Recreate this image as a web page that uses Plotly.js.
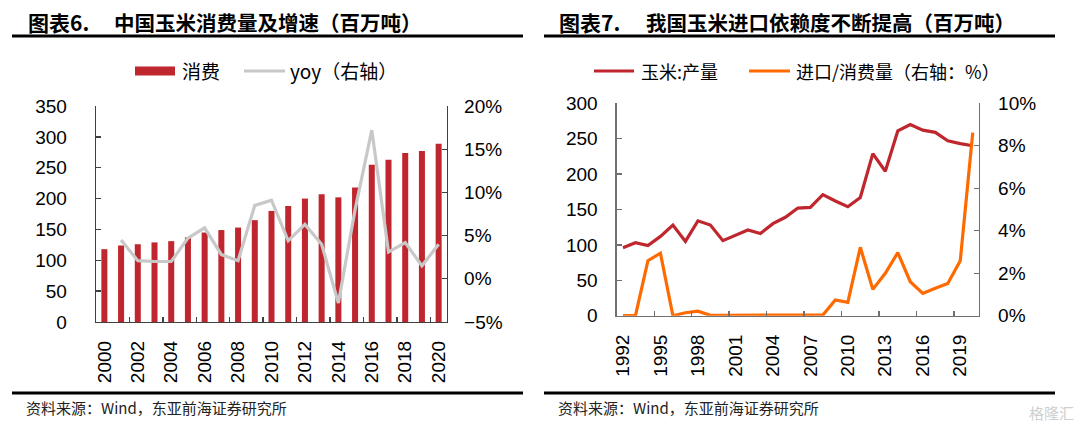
<!DOCTYPE html>
<html>
<head>
<meta charset="utf-8">
<script src="https://cdn.plot.ly/plotly-3.0.1.min.js"></script>
<style>
html,body{margin:0;padding:0;background:#fff;}
#chart{width:1080px;height:429px;}
</style>
</head>
<body>
<div id="chart"></div>
<script>
// ---- Left chart data: China corn consumption (million tonnes) and yoy (%)
const yearsLeft = ['2000','2001','2002','2003','2004','2005','2006','2007','2008','2009','2010',
                   '2011','2012','2013','2014','2015','2016','2017','2018','2019','2020'];
const consumption = [118,124,126,129,131,137,145,149,153,165,180,188,200,207,202,218,255,263,274,277,289];
const yoyGrowth = [null,4.5,2.1,2.0,2.0,4.7,5.9,2.8,2.1,8.5,9.1,4.4,6.3,4.0,-2.8,8.0,17.2,3.1,4.2,1.5,4.0];

// ---- Right chart data: China corn production (million tonnes) and import / consumption (%)
const yearsRight = ['1992','1993','1994','1995','1996','1997','1998','1999','2000','2001','2002',
                    '2003','2004','2005','2006','2007','2008','2009','2010','2011','2012','2013',
                    '2014','2015','2016','2017','2018','2019','2020'];
const production = [96,103,99,112,128,105,134,128,106,114,121,116,130,139,152,153,171,162,154,167,
                    229,204,261,270,262,259,247,243,240];
const importRatio = [0,0,2.59,2.94,0,0.14,0.21,0.02,0.02,0.02,0.01,0.01,0.01,0.02,0.02,0.01,0.03,
                     0.74,0.63,3.22,1.24,2.0,2.97,1.6,1.05,1.29,1.52,2.59,8.62];

// ---- Text
const titleLeftNum = '图表6.';
const titleLeft = '中国玉米消费量及增速（百万吨）';
const titleRightNum = '图表7.';
const titleRight = '我国玉米进口依赖度不断提高（百万吨）';
const legendLeft = ['消费', 'yoy（右轴）'];
const legendRight = ['玉米:产量', '进口/消费量（右轴：%）'];
const sourceText = '资料来源：Wind，东亚前海证券研究所';

const W = 1080, H = 429;
const px = v => v / W;
const py = v => (H - v) / H;

const RED = '#C0262D';
const GREY = '#C8C8C8';
const ORANGE = '#FF6A00';
const tickFont = {family: 'Liberation Sans, Arial, sans-serif', size: 19, color: '#000'};
const cjk = 'Noto Sans CJK SC, sans-serif';

const traces = [
  {type: 'bar', x: yearsLeft, y: consumption, xaxis: 'x', yaxis: 'y',
   marker: {color: RED}, showlegend: false, hoverinfo: 'x+y'},
  {type: 'scatter', mode: 'lines', x: yearsLeft, y: yoyGrowth, xaxis: 'x', yaxis: 'y2',
   line: {color: GREY, width: 3.2}, showlegend: false, connectgaps: false},
  {type: 'scatter', mode: 'lines', x: yearsRight, y: production, xaxis: 'x2', yaxis: 'y3',
   line: {color: RED, width: 3.2}, showlegend: false},
  {type: 'scatter', mode: 'lines', x: yearsRight, y: importRatio, xaxis: 'x2', yaxis: 'y4',
   line: {color: ORANGE, width: 3.2}, showlegend: false}
];

const axisCommon = {
  showgrid: false, zeroline: false, showline: true, linewidth: 1.3,
  ticks: 'inside', ticklen: 5, tickwidth: 1.3, tickfont: tickFont, fixedrange: true
};
const leftAxisColor = '#404040';
const rightAxisColor = '#707070';

const layout = {
  width: W, height: H,
  margin: {l: 0, r: 0, t: 0, b: 0},
  paper_bgcolor: '#fff', plot_bgcolor: 'rgba(0,0,0,0)',
  bargap: 0.64,
  showlegend: false,
  xaxis: Object.assign({}, axisCommon, {
    domain: [px(96), px(447)], anchor: 'y', type: 'category',
    range: [-0.5, 20.5], tickmode: 'linear', tick0: 0, dtick: 2,
    tickson: 'boundaries', tickangle: -90, linecolor: leftAxisColor, tickcolor: leftAxisColor,
    ticklabelstandoff: 10
  }),
  yaxis: Object.assign({}, axisCommon, {
    domain: [py(322), py(106)], anchor: 'x', range: [0, 350], dtick: 50,
    linecolor: leftAxisColor, tickcolor: leftAxisColor, ticklabelstandoff: 24
  }),
  yaxis2: Object.assign({}, axisCommon, {
    overlaying: 'y', side: 'right', anchor: 'x', range: [-5, 20], dtick: 5,
    ticksuffix: '%', linecolor: leftAxisColor, tickcolor: leftAxisColor, ticklabelstandoff: 12
  }),
  xaxis2: Object.assign({}, axisCommon, {
    domain: [px(616.7), px(979)], anchor: 'y3', type: 'category',
    range: [-0.5, 28.5], tickmode: 'linear', tick0: 0, dtick: 3,
    tickson: 'boundaries', tickangle: -90, linecolor: rightAxisColor, tickcolor: rightAxisColor,
    ticklabelstandoff: 10
  }),
  yaxis3: Object.assign({}, axisCommon, {
    domain: [py(315.7), py(103.3)], anchor: 'x2', range: [0, 300], dtick: 50,
    linecolor: rightAxisColor, tickcolor: rightAxisColor, ticklabelstandoff: 14
  }),
  yaxis4: Object.assign({}, axisCommon, {
    overlaying: 'y3', side: 'right', anchor: 'x2', range: [0, 10], dtick: 2,
    ticksuffix: '%', linecolor: rightAxisColor, tickcolor: rightAxisColor, ticklabelstandoff: 14
  }),
  shapes: [
    // title underlines
    {type: 'line', xref: 'paper', yref: 'paper', x0: px(12), x1: px(523), y0: py(36), y1: py(36),
     line: {color: '#000', width: 3}},
    {type: 'line', xref: 'paper', yref: 'paper', x0: px(544), x1: px(1055), y0: py(36), y1: py(36),
     line: {color: '#000', width: 3}},
    // footer lines
    {type: 'line', xref: 'paper', yref: 'paper', x0: px(12), x1: px(523), y0: py(393), y1: py(393),
     line: {color: '#000', width: 3}},
    {type: 'line', xref: 'paper', yref: 'paper', x0: px(544), x1: px(1055), y0: py(393), y1: py(393),
     line: {color: '#000', width: 3}},
    // legend symbols (left)
    {type: 'rect', xref: 'paper', yref: 'paper', x0: px(135), x1: px(175), y0: py(75.5), y1: py(66.5),
     fillcolor: RED, line: {width: 0}},
    {type: 'line', xref: 'paper', yref: 'paper', x0: px(244), x1: px(285), y0: py(71), y1: py(71),
     line: {color: GREY, width: 3}},
    // legend symbols (right)
    {type: 'line', xref: 'paper', yref: 'paper', x0: px(594), x1: px(634), y0: py(71), y1: py(71),
     line: {color: RED, width: 3}},
    {type: 'line', xref: 'paper', yref: 'paper', x0: px(749), x1: px(790), y0: py(71), y1: py(71),
     line: {color: ORANGE, width: 3}}
  ],
  annotations: [
    {text: '<b>' + titleLeftNum + '</b>', xref: 'paper', yref: 'paper', x: px(26), y: py(22),
     xanchor: 'left', yanchor: 'middle', showarrow: false, font: {family: cjk, size: 21, color: '#000'}},
    {text: '<b>' + titleLeft + '</b>', xref: 'paper', yref: 'paper', x: px(112), y: py(22),
     xanchor: 'left', yanchor: 'middle', showarrow: false, font: {family: cjk, size: 20.5, color: '#000'}},
    {text: '<b>' + titleRightNum + '</b>', xref: 'paper', yref: 'paper', x: px(557), y: py(22),
     xanchor: 'left', yanchor: 'middle', showarrow: false, font: {family: cjk, size: 21, color: '#000'}},
    {text: '<b>' + titleRight + '</b>', xref: 'paper', yref: 'paper', x: px(644), y: py(22),
     xanchor: 'left', yanchor: 'middle', showarrow: false, font: {family: cjk, size: 20.5, color: '#000'}},
    {text: legendLeft[0], xref: 'paper', yref: 'paper', x: px(180), y: py(71),
     xanchor: 'left', yanchor: 'middle', showarrow: false, font: {family: cjk, size: 19, color: '#000'}},
    {text: legendLeft[1], xref: 'paper', yref: 'paper', x: px(288), y: py(71),
     xanchor: 'left', yanchor: 'middle', showarrow: false, font: {family: cjk, size: 19, color: '#000'}},
    {text: legendRight[0], xref: 'paper', yref: 'paper', x: px(639), y: py(71),
     xanchor: 'left', yanchor: 'middle', showarrow: false, font: {family: cjk, size: 18, color: '#000'}},
    {text: legendRight[1], xref: 'paper', yref: 'paper', x: px(794), y: py(71),
     xanchor: 'left', yanchor: 'middle', showarrow: false, font: {family: cjk, size: 18, color: '#000'}},
    {text: sourceText, xref: 'paper', yref: 'paper', x: px(24), y: py(407),
     xanchor: 'left', yanchor: 'middle', showarrow: false, font: {family: cjk, size: 15, color: '#222'}},
    {text: sourceText, xref: 'paper', yref: 'paper', x: px(556), y: py(407),
     xanchor: 'left', yanchor: 'middle', showarrow: false, font: {family: cjk, size: 15, color: '#222'}},
    {text: '格隆汇', xref: 'paper', yref: 'paper', x: px(1076), y: py(412),
     xanchor: 'right', yanchor: 'middle', showarrow: false, font: {family: cjk, size: 15, color: '#cfcfcf'}}
  ]
};

Plotly.newPlot('chart', traces, layout, {displayModeBar: false, staticPlot: true});
</script>
</body>
</html>
